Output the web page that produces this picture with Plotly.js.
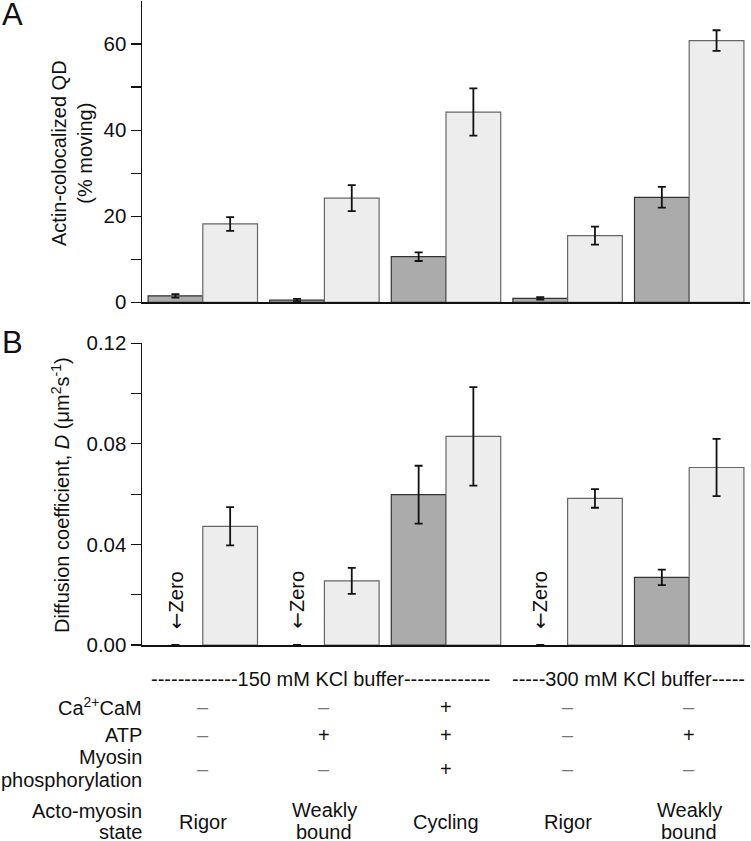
<!DOCTYPE html>
<html>
<head>
<meta charset="utf-8">
<script src="https://cdn.plot.ly/plotly-3.0.1.min.js"></script>
<style>html,body{margin:0;padding:0;background:#fff}#chart{width:751px;height:841px}</style>
</head>
<body>
<div id="chart"></div>
<script>
// ---- data ----
var categories = ["150 mM Rigor", "150 mM Weakly bound", "150 mM Cycling", "300 mM Rigor", "300 mM Weakly bound"];
// Panel A: actin-colocalized QD (% moving)
var movingDark = [1.5, 0.5, 10.6, 0.9, 24.4];
var movingDarkErr = [0.4, 0.3, 1.0, 0.3, 2.4];
var movingLight = [18.2, 24.2, 44.2, 15.5, 60.8];
var movingLightErr = [1.6, 3.0, 5.5, 2.1, 2.4];
// Panel B: diffusion coefficient D (um^2 s^-1)
var diffDark = [0, 0, 0.0598, 0, 0.0269];
var diffDarkErr = [null, null, 0.0115, null, 0.0031];
var diffLight = [0.0472, 0.0255, 0.0830, 0.0583, 0.0706];
var diffLightErr = [0.0076, 0.0052, 0.0196, 0.0037, 0.0114];
var zeroFlags = [true, true, false, true, false];
// table rows
var bufferLabels = ["-------------150 mM KCl buffer-------------", "-----300 mM KCl buffer-----"];
var bufferCenters = [0.97, 3.5];
var caCaM = ["–", "–", "+", "–", "–"];
var atp = ["–", "+", "+", "–", "+"];
var phos = ["–", "–", "+", "–", "–"];
var states = ["Rigor", "Weakly<br>bound", "Cycling", "Rigor", "Weakly<br>bound"];

var FONT = "Liberation Sans, Arial, sans-serif";
var darkColor = "#ababab", lightColor = "#ededed";

function barTrace(y, err, color, lineColor, xa, ya, name) {
  return {
    type: "bar", x: categories, y: y, name: name, xaxis: xa, yaxis: ya,
    marker: {color: color, line: {color: lineColor, width: y.map(function (v) { return v === 0 ? 0 : 1.2; })}},
    error_y: {type: "data", array: err, visible: true, color: "#111", thickness: 1.8, width: 4}
  };
}

var data = [
  barTrace(movingDark, movingDarkErr, darkColor, "#333", "x", "y", "dark"),
  barTrace(movingLight, movingLightErr, lightColor, "#666", "x", "y", "light"),
  barTrace(diffDark, diffDarkErr, darkColor, "#333", "x2", "y2", "dark"),
  barTrace(diffLight, diffLightErr, lightColor, "#666", "x2", "y2", "light")
];

var plotTop = 1, plotBottom = 645, plotH = plotBottom - plotTop;
function py(px) { return (plotBottom - px) / plotH; }

var xaxisCommon = {
  type: "category", range: [-0.5, 4.5], showticklabels: false, ticks: "",
  showline: true, linecolor: "#111", linewidth: 1.5, showgrid: false, zeroline: false, fixedrange: true
};
var yaxisCommon = {
  showline: true, linecolor: "#111", linewidth: 1.5, ticks: "outside", ticklen: 10, tickwidth: 1.2,
  tickcolor: "#111", showgrid: false, zeroline: false,
  tickfont: {family: FONT, size: 20.5, color: "#111"}
};

var annotations = [];
function ann(o) {
  annotations.push(Object.assign({showarrow: false, font: {family: FONT, size: 20, color: "#111"}}, o));
}
// panel letters
ann({text: "A", xref: "paper", yref: "paper", x: -0.2336, y: py(15), xanchor: "left", yanchor: "middle", font: {family: FONT, size: 31, color: "#111"}});
ann({text: "B", xref: "paper", yref: "paper", x: -0.2336, y: py(343), xanchor: "left", yanchor: "middle", font: {family: FONT, size: 31, color: "#111"}});
// axis titles
ann({text: "Actin-colocalized QD<br>(% moving)", xref: "paper", yref: "paper", x: (72 - 142) / 608, y: py(153), textangle: -90, xanchor: "center", yanchor: "middle"});
ann({text: "Diffusion coefficient, <i>D</i> (μm<sup>2</sup>s<sup>-1</sup>)", xref: "paper", yref: "paper", x: (61 - 142) / 608, y: py(495), textangle: -90, xanchor: "center", yanchor: "middle"});
// zero labels
zeroFlags.forEach(function (z, i) {
  if (z) ann({text: "<span style=\"font-family:'DejaVu Sans'\">←</span>Zero", xref: "x2", yref: "y2", x: i - 0.225, y: 0.018, textangle: -90, xanchor: "center", yanchor: "middle"});
});
// buffer lines
bufferLabels.forEach(function (t, i) {
  ann({text: t, xref: "x2", yref: "paper", x: bufferCenters[i], y: py(679.3), xanchor: "center", yanchor: "middle"});
});
// row labels
var rowX = (143.5 - 142) / 608;
ann({text: "Ca<sup>2+</sup>CaM", xref: "paper", yref: "paper", x: rowX, y: py(706.7), xanchor: "right", yanchor: "middle"});
ann({text: "ATP", xref: "paper", yref: "paper", x: rowX, y: py(735), xanchor: "right", yanchor: "middle"});
ann({text: "Myosin", xref: "paper", yref: "paper", x: rowX, y: py(757.3), xanchor: "right", yanchor: "middle"});
ann({text: "phosphorylation", xref: "paper", yref: "paper", x: rowX, y: py(780), xanchor: "right", yanchor: "middle"});
ann({text: "Acto-myosin", xref: "paper", yref: "paper", x: rowX, y: py(810.7), xanchor: "right", yanchor: "middle"});
ann({text: "state", xref: "paper", yref: "paper", x: rowX, y: py(831.5), xanchor: "right", yanchor: "middle"});
function sym(s) { return s === "+" ? {family: FONT, size: 20, color: "#111"} : {family: FONT, size: 20, color: "#777"}; }
for (var i = 0; i < categories.length; i++) {
  ann({text: caCaM[i], xref: "x2", yref: "paper", x: i, y: py(706.7), xanchor: "center", yanchor: "middle", font: sym(caCaM[i])});
  ann({text: atp[i], xref: "x2", yref: "paper", x: i, y: py(735), xanchor: "center", yanchor: "middle", font: sym(atp[i])});
  ann({text: phos[i], xref: "x2", yref: "paper", x: i, y: py(769.3), xanchor: "center", yanchor: "middle", font: sym(phos[i])});
  var two = states[i].indexOf("<br>") >= 0;
  if (two) {
    var parts = states[i].split("<br>");
    ann({text: parts[0], xref: "x2", yref: "paper", x: i, y: py(810), xanchor: "center", yanchor: "middle"});
    ann({text: parts[1], xref: "x2", yref: "paper", x: i, y: py(831.5), xanchor: "center", yanchor: "middle"});
  } else {
    ann({text: states[i], xref: "x2", yref: "paper", x: i, y: py(821.7), xanchor: "center", yanchor: "middle"});
  }
}

var layout = {
  width: 751, height: 841,
  margin: {l: 142, r: 1, t: plotTop, b: 841 - plotBottom, pad: 0},
  paper_bgcolor: "#fff", plot_bgcolor: "#fff",
  showlegend: false, barmode: "group", bargap: 0.1, bargroupgap: 0,
  font: {family: FONT, size: 20, color: "#111"},
  xaxis: Object.assign({}, xaxisCommon, {anchor: "y", domain: [0, 1]}),
  xaxis2: Object.assign({}, xaxisCommon, {anchor: "y2", domain: [0, 1]}),
  yaxis: Object.assign({}, yaxisCommon, {anchor: "x", domain: [py(302.3), 1], range: [0, 70], tickvals: [0, 20, 40, 60],
    minor: {tickvals: [10, 30, 50], ticks: "outside", ticklen: 10, tickwidth: 1.2, tickcolor: "#111"}}),
  yaxis2: Object.assign({}, yaxisCommon, {anchor: "x2", domain: [0, py(343.3)], range: [0, 0.12], tickvals: [0, 0.04, 0.08, 0.12], tickformat: ".2f",
    minor: {tickvals: [0.02, 0.06, 0.10], ticks: "outside", ticklen: 10, tickwidth: 1.2, tickcolor: "#111"}}),
  annotations: annotations
};

Plotly.newPlot("chart", data, layout, {displayModeBar: false, staticPlot: true});
</script>
</body>
</html>
